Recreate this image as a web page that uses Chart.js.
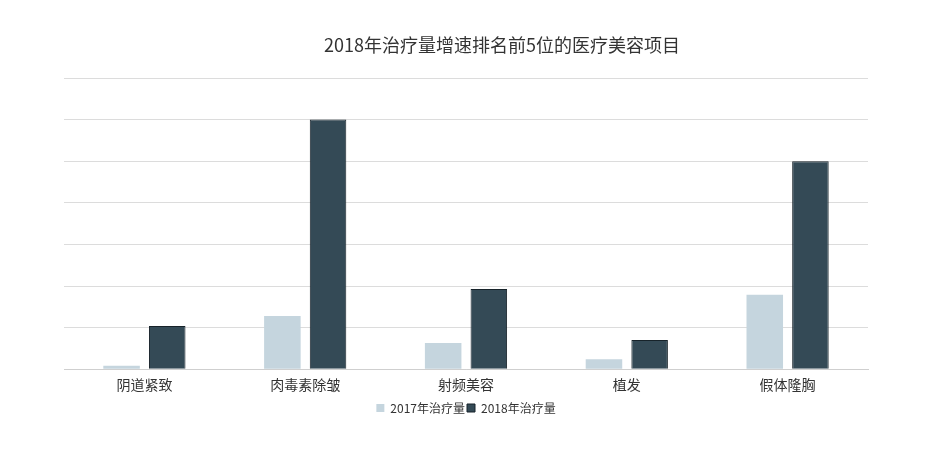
<!DOCTYPE html>
<html>
<head>
<meta charset="utf-8">
<script src="https://cdn.jsdelivr.net/npm/chart.js@4/dist/chart.umd.min.js"></script>
<style>
  html, body { margin: 0; padding: 0; background: #fff; }
  #wrap { width: 948px; height: 466px; }
</style>
</head>
<body>
<div id="wrap"><canvas id="chart" width="948" height="466"></canvas></div>
<script>
const chartTitle = '2018年治疗量增速排名前5位的医疗美容项目';
const categories = ['阴道紧致', '肉毒素除皱', '射频美容', '植发', '假体隆胸'];
const seriesNames = ['2017年治疗量', '2018年治疗量'];
const values2017 = [0.08, 1.28, 0.63, 0.24, 1.79];
const values2018 = [1.04, 6.0, 1.93, 0.70, 5.0];

const fontFamily = '"Noto Sans CJK SC", "Noto Sans", sans-serif';

// title sits a bit right of the plot centre in the original
const titlePlugin = {
  id: 'offsetTitle',
  afterDraw(chart) {
    const ctx = chart.ctx;
    ctx.save();
    ctx.font = '18px ' + fontFamily;
    ctx.fillStyle = '#333';
    ctx.textAlign = 'center';
    ctx.textBaseline = 'middle';
    ctx.fillText(chartTitle, 502, 45);
    ctx.restore();
  }
};

const ctx = document.getElementById('chart').getContext('2d');
const chart = new Chart(ctx, {
  type: 'bar',
  data: {
    labels: categories,
    datasets: [
      {
        label: seriesNames[0],
        data: values2017,
        backgroundColor: '#c5d5de',
        borderColor: '#c5d5de',
        borderWidth: 0
      },
      {
        label: seriesNames[1],
        data: values2018,
        backgroundColor: '#344a56',
        borderColor: '#17232a',
        borderWidth: 1
      }
    ]
  },
  options: {
    responsive: false,
    animation: false,
    categoryPercentage: 0.568,
    barPercentage: 0.8,
    layout: { padding: { left: 64, right: 80, top: 78, bottom: 42 } },
    plugins: {
      legend: {
        position: 'bottom',
        labels: {
          boxWidth: 8,
          boxHeight: 8,
          padding: 2,
          color: '#333',
          font: { family: fontFamily, size: 12 }
        }
      },
      tooltip: { enabled: false }
    },
    scales: {
      x: {
        grid: { display: false, drawTicks: false },
        border: { display: true, color: '#cfcfcf', width: 1 },
        ticks: {
          color: '#333',
          padding: 7,
          font: { family: fontFamily, size: 14 }
        }
      },
      y: {
        min: 0,
        max: 7,
        ticks: { display: false, stepSize: 1 },
        grid: { color: '#dcdcdc', drawTicks: false },
        border: { display: false }
      }
    }
  },
  plugins: [titlePlugin]
});
</script>
</body>
</html>
